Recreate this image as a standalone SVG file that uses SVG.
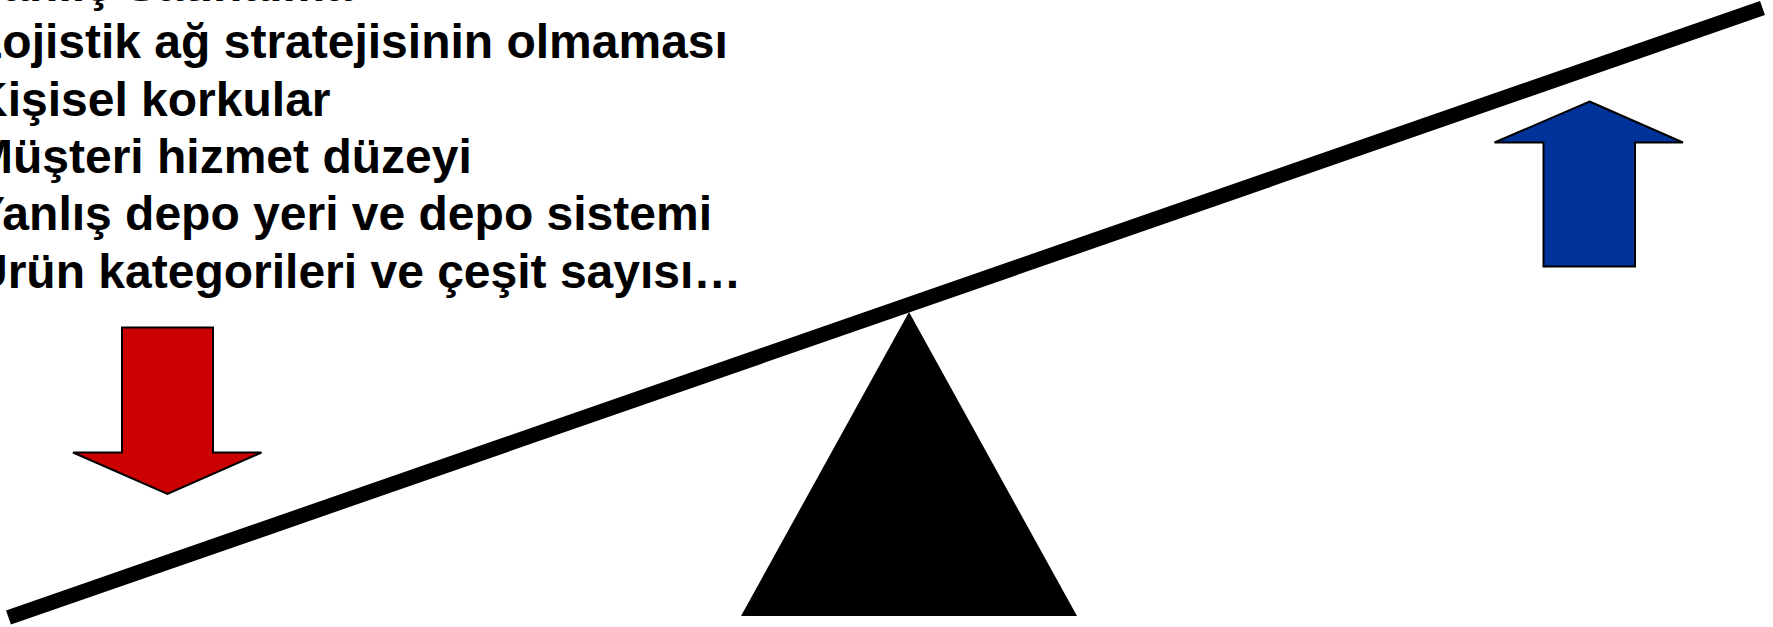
<svg xmlns="http://www.w3.org/2000/svg" width="1773" height="627" viewBox="0 0 1773 627">
<style>
.t{font-family:"Liberation Sans",Arial,sans-serif;font-weight:bold;font-size:48px;fill:#000}
.arrow{stroke:#000;stroke-width:2;stroke-linejoin:miter}
</style>
<rect width="1773" height="627" fill="#fff"/>
<g id="text-list">
<text class="t" x="-27" y="0.5">Yanlış Satınalma</text>
<text class="t" x="-27" y="58.3">Lojistik ağ stratejisinin olmaması</text>
<text class="t" x="-27" y="115.6">Kişisel korkular</text>
<text class="t" x="-27" y="172.9">Müşteri hizmet düzeyi</text>
<text class="t" x="-27" y="230.2">Yanlış depo yeri ve depo sistemi</text>
<text class="t" x="-27" y="287.5">Ürün kategorileri ve çeşit sayısı…</text>
</g>
<g id="lever">
<line x1="8.5" y1="617.5" x2="1762.5" y2="8" stroke="#000" stroke-width="15"/>
</g>
<g id="fulcrum">
<polygon points="909,312 1077,616 741,616" fill="#000"/>
</g>
<g id="down-arrow">
<polygon class="arrow" fill="#CC0000" points="122,327.5 213,327.5 213,452.5 261.5,452.5 167.5,494 73,452.5 122,452.5"/>
</g>
<g id="up-arrow">
<polygon class="arrow" fill="#003399" points="1589.5,101.5 1683,142.5 1635,142.5 1635,266.5 1543.5,266.5 1543.5,142.5 1494.5,142.5"/>
</g>
</svg>
